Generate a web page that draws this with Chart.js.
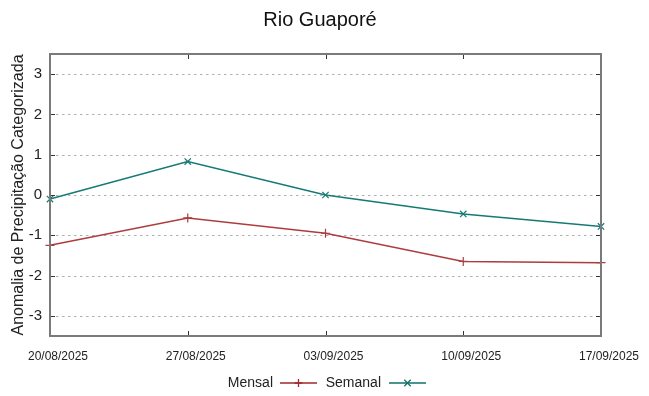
<!DOCTYPE html>
<html>
<head>
<meta charset="utf-8">
<script src="https://cdn.jsdelivr.net/npm/chart.js@4/dist/chart.umd.min.js"></script>
<style>
html,body{margin:0;padding:0;background:#fff;}
#wrap{width:649px;height:396px;}
</style>
</head>
<body>
<div id="wrap"><canvas id="c" width="649" height="396"></canvas></div>
<script>
const categories = ["20/08/2025","27/08/2025","03/09/2025","10/09/2025","17/09/2025"];
const mensal = [-1.25, -0.57, -0.95, -1.65, -1.68];
const semanal = [-0.10, 0.83, 0.00, -0.47, -0.78];
const yTicks = [-3, -2, -1, 0, 1, 2, 3];
const seriesNames = ["Mensal", "Semanal"];

const RED = '#ae3c3e';
const TEAL = '#157a74';
const FONT = "'Liberation Sans', Arial, sans-serif";

const framePlugin = {
  id: 'frame',
  beforeDatasetsDraw(chart) {
    const {ctx, chartArea: a, scales: {y}} = chart;
    ctx.save();
    ctx.strokeStyle = '#b0b0b0';
    ctx.lineWidth = 1;
    ctx.setLineDash([2.5, 3.5]);
    yTicks.forEach(v => {
      const py = Math.round(y.getPixelForValue(v)) + 0.5;
      ctx.beginPath();
      ctx.moveTo(a.left, py);
      ctx.lineTo(a.right, py);
      ctx.stroke();
    });
    ctx.restore();
  },
  afterDatasetsDraw(chart) {
    const {ctx, chartArea: a, scales: {x, y}} = chart;
    ctx.save();
    ctx.setLineDash([]);
    ctx.strokeStyle = '#333';
    ctx.lineWidth = 1;
    const L = 5;
    yTicks.forEach(v => {
      const py = Math.round(y.getPixelForValue(v)) + 0.5;
      ctx.beginPath();
      ctx.moveTo(a.left, py); ctx.lineTo(a.left + L, py);
      ctx.moveTo(a.right, py); ctx.lineTo(a.right - L, py);
      ctx.stroke();
    });
    categories.forEach((c, i) => {
      const px = Math.round(x.getPixelForValue(i)) + 0.5;
      ctx.beginPath();
      ctx.moveTo(px, a.top); ctx.lineTo(px, a.top + L);
      ctx.moveTo(px, a.bottom); ctx.lineTo(px, a.bottom - L);
      ctx.stroke();
    });
    ctx.strokeStyle = '#7a7a7a';
    ctx.lineWidth = 2;
    ctx.strokeRect(a.left, a.top, a.right - a.left, a.bottom - a.top);
    ctx.restore();
  },
  afterDraw(chart) {
    const ctx = chart.ctx;
    const yC = 383;
    const items = [
      {name: seriesNames[0], color: '#9e2a2a', marker: 'plus', textRight: 273, l0: 280, l1: 317},
      {name: seriesNames[1], color: '#137068', marker: 'x', textRight: 381, l0: 389, l1: 426}
    ];
    ctx.save();
    ctx.font = '14px ' + FONT;
    ctx.textAlign = 'right';
    ctx.textBaseline = 'middle';
    items.forEach(it => {
      ctx.fillStyle = '#222';
      ctx.fillText(it.name, it.textRight, yC);
      ctx.strokeStyle = it.color;
      ctx.lineWidth = 1.3;
      ctx.beginPath();
      ctx.moveTo(it.l0, yC); ctx.lineTo(it.l1, yC);
      ctx.stroke();
      const mx = (it.l0 + it.l1) / 2, r = 4;
      ctx.beginPath();
      if (it.marker === 'plus') {
        ctx.moveTo(mx, yC - r); ctx.lineTo(mx, yC + r);
        ctx.moveTo(mx - r, yC); ctx.lineTo(mx + r, yC);
      } else {
        const d = r * 0.8;
        ctx.moveTo(mx - d, yC - d); ctx.lineTo(mx + d, yC + d);
        ctx.moveTo(mx - d, yC + d); ctx.lineTo(mx + d, yC - d);
      }
      ctx.stroke();
    });
    ctx.restore();
  }
};

new Chart(document.getElementById('c'), {
  type: 'line',
  data: {
    labels: categories,
    datasets: [
      {
        label: seriesNames[0], data: mensal,
        borderColor: RED, backgroundColor: RED, borderWidth: 1.5,
        pointStyle: 'cross', pointRadius: 4.5, pointBorderWidth: 1.2,
        pointBorderColor: RED, tension: 0, clip: false
      },
      {
        label: seriesNames[1], data: semanal,
        borderColor: TEAL, backgroundColor: TEAL, borderWidth: 1.5,
        pointStyle: 'crossRot', pointRadius: 4.5, pointBorderWidth: 1.2,
        pointBorderColor: TEAL, tension: 0, clip: false
      }
    ]
  },
  options: {
    responsive: false,
    animation: false,
    devicePixelRatio: 1,
    layout: {padding: {left: 0, right: 9, top: 0, bottom: 34}},
    plugins: {
      legend: {display: false},
      tooltip: {enabled: false},
      title: {
        display: true, text: 'Rio Guaporé', color: '#111',
        font: {family: FONT, size: 20, weight: 'normal'},
        padding: {top: 8, bottom: 22}
      }
    },
    scales: {
      x: {
        type: 'category', offset: false,
        grid: {display: false, drawTicks: false, tickLength: 0}, border: {display: false},
        ticks: {color: '#222', font: {family: FONT, size: 12}, padding: 13, maxRotation: 0, autoSkip: false, labelOffset: 8},
        afterFit: (s) => { s.height = 26; }
      },
      y: {
        position: 'left',
        min: -3.5, max: 3.5,
        afterBuildTicks: (s) => { s.ticks = yTicks.map(v => ({value: v})); },
        grid: {display: false, drawTicks: false, tickLength: 0}, border: {display: false},
        ticks: {color: '#222', font: {family: FONT, size: 15}, padding: 8},
        title: {
          display: true, text: 'Anomalia de Precipitação Categorizada', color: '#222',
          font: {family: FONT, size: 16}, padding: {top: 9, bottom: 2}
        },
        afterFit: (s) => { s.width = 50; }
      },
      yR: {
        position: 'right',
        min: -3.5, max: 3.5,
        grid: {display: false, drawTicks: false}, border: {display: false},
        ticks: {display: false},
        afterFit: (s) => { s.width = 39; }
      }
    }
  },
  plugins: [framePlugin]
});
</script>
</body>
</html>
